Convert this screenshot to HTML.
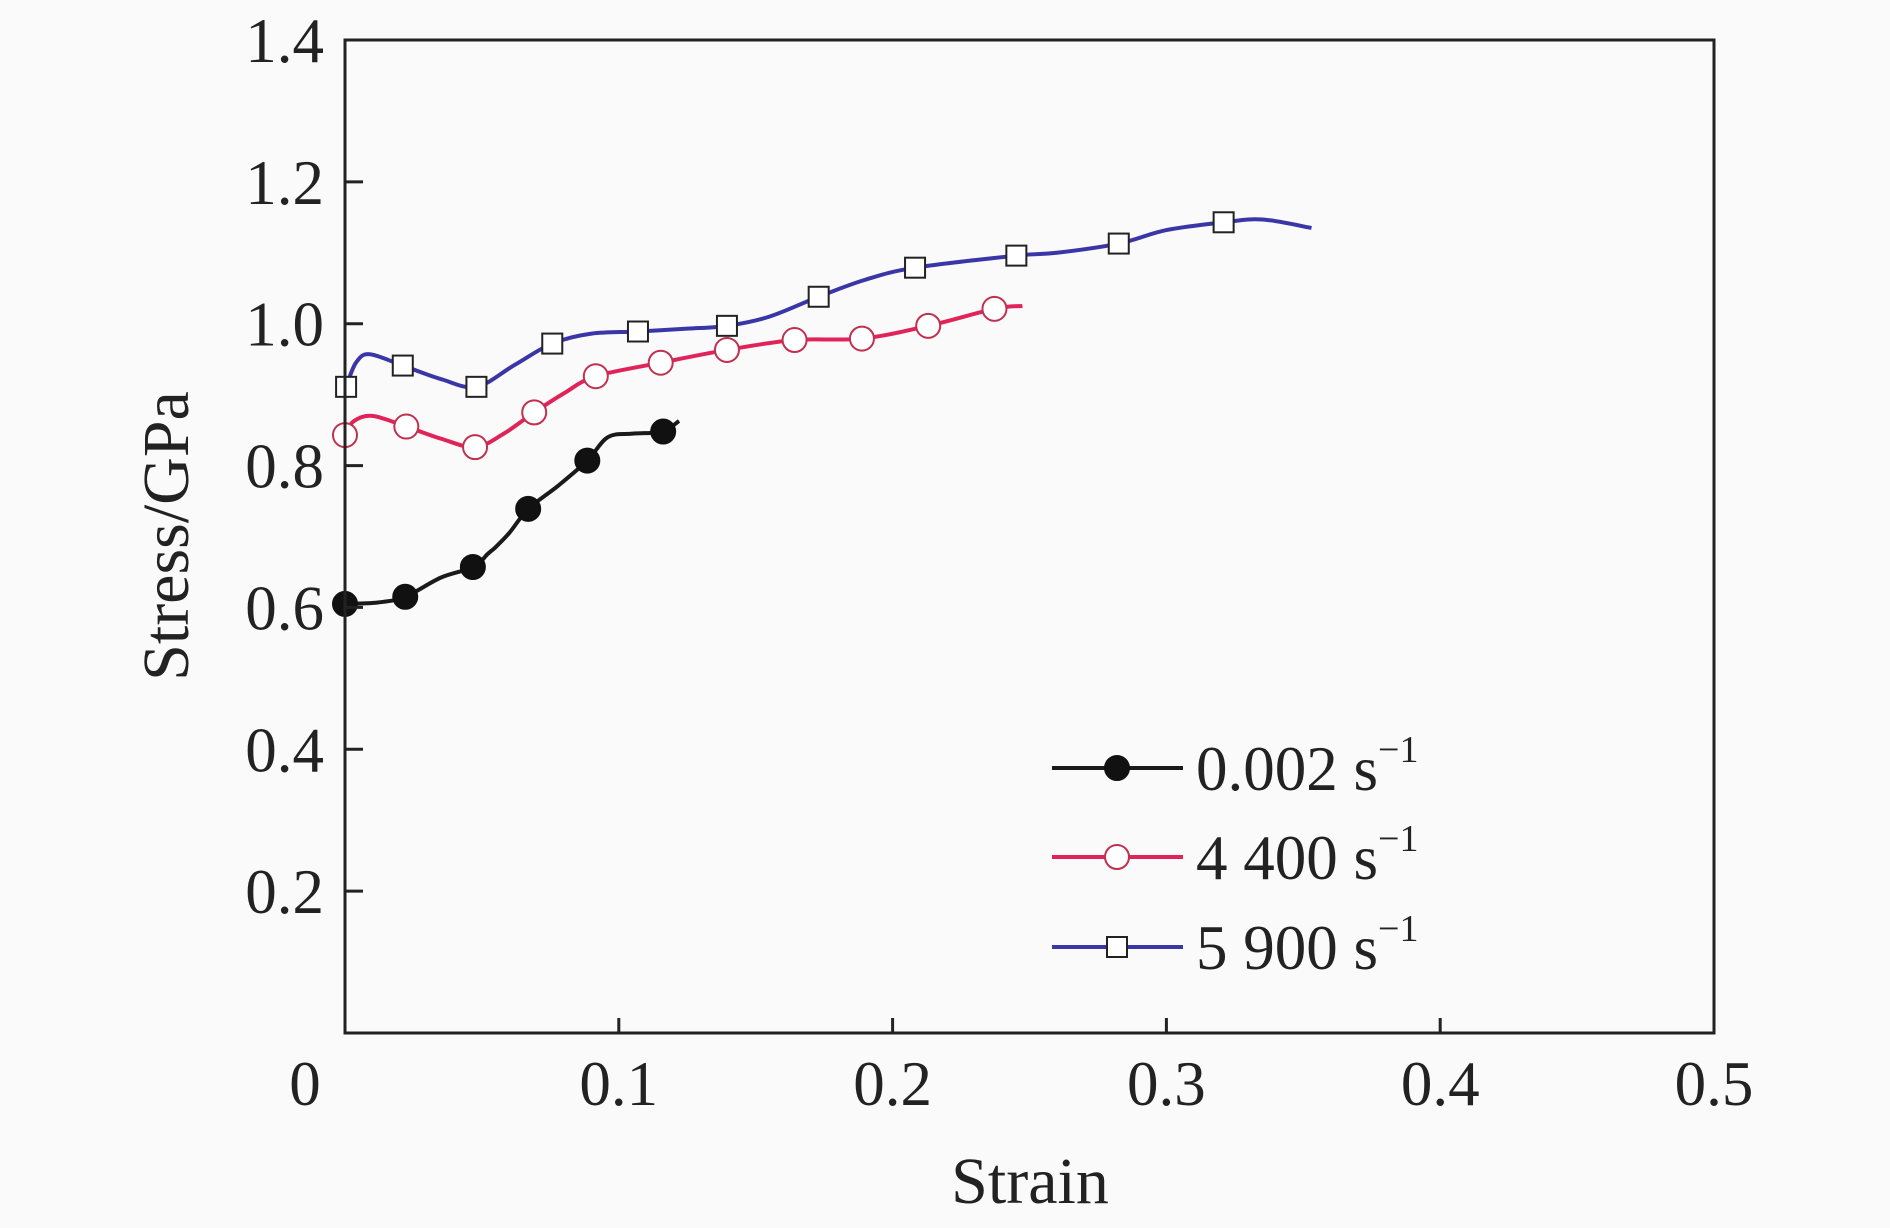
<!DOCTYPE html>
<html><head><meta charset="utf-8"><style>
html,body{margin:0;padding:0;background:#fafafa;}
svg{display:block;}
text{font-family:"Liberation Serif",serif;fill:#222;}
</style></head><body>
<svg id="chart" width="1890" height="1228" viewBox="0 0 1890 1228" xmlns="http://www.w3.org/2000/svg">
<rect x="0" y="0" width="1890" height="1228" fill="#fafafa"/>
<g id="marks"></g>
<rect x="345" y="40" width="1369" height="993" fill="none" stroke="#222" stroke-width="3"/>
<g id="axes"></g>
<text transform="translate(188,536) rotate(-90)" text-anchor="middle" font-size="66">Stress/GPa</text>
<text x="1030" y="1203" text-anchor="middle" font-size="66">Strain</text>
<g id="legend"></g>
</svg>
<script>
const xTicks=[0,0.1,0.2,0.3,0.4,0.5];
const xTickLabels=["0","0.1","0.2","0.3","0.4","0.5"];
const yTicks=[0.2,0.4,0.6,0.8,1.0,1.2,1.4];
const yTickLabels=["0.2","0.4","0.6","0.8","1.0","1.2","1.4"];
const seriesNames=["0.002","4 400","5 900"];
const seriesColors=["#1a1a1a","#e0245a","#3a36a8"];
// curve data
const blackLineX=[0,0.012,0.022,0.035,0.047,0.052,0.055,0.060,0.067,0.078,0.0885,0.096,0.105,0.116,0.122];
const blackLineY=[0.605,0.607,0.615,0.642,0.657,0.675,0.685,0.705,0.739,0.772,0.807,0.840,0.845,0.848,0.863];
const blackMarkX=[0,0.022,0.0467,0.0669,0.0885,0.1162];
const blackMarkY=[0.605,0.615,0.657,0.739,0.807,0.848];
const redLineX=[0,0.003,0.010,0.0224,0.035,0.0475,0.058,0.0691,0.080,0.0916,0.1153,0.1395,0.1642,0.1888,0.213,0.2372,0.2474];
const redLineY=[0.843,0.862,0.870,0.855,0.838,0.826,0.845,0.875,0.902,0.926,0.945,0.963,0.977,0.979,0.997,1.021,1.025];
const redMarkX=[0,0.0224,0.0475,0.0691,0.0916,0.1153,0.1395,0.1642,0.1888,0.213,0.2372];
const redMarkY=[0.843,0.855,0.826,0.875,0.926,0.945,0.963,0.977,0.979,0.997,1.021];
const blueLineX=[0.0004,0.004,0.009,0.0211,0.035,0.048,0.062,0.0757,0.090,0.107,0.125,0.1395,0.155,0.173,0.19,0.2082,0.2452,0.26,0.2826,0.300,0.3209,0.335,0.353];
const blueLineY=[0.911,0.945,0.957,0.941,0.922,0.911,0.942,0.972,0.986,0.989,0.993,0.997,1.010,1.038,1.062,1.079,1.096,1.100,1.113,1.132,1.143,1.147,1.135];
const blueMarkX=[0.0004,0.0211,0.048,0.0757,0.107,0.1395,0.173,0.2082,0.2452,0.2826,0.3209];
const blueMarkY=[0.911,0.941,0.911,0.972,0.989,0.997,1.038,1.079,1.096,1.113,1.143];

const L=345,R=1714,T=40,B=1033;
function xs(v){return L+(v-0)/(0.5-0)*(R-L);}
function ys(v){return B-(v-0)/(1.4-0)*(B-T);}
const NS="http://www.w3.org/2000/svg";
function mk(tag,attrs,parent){const e=document.createElementNS(NS,tag);for(const k in attrs)e.setAttribute(k,attrs[k]);parent.appendChild(e);return e;}
function smooth(px,py){
  let d="M"+px[0]+","+py[0];
  for(let i=0;i<px.length-1;i++){
    const x0=px[i-1]!==undefined?px[i-1]:px[i],y0=py[i-1]!==undefined?py[i-1]:py[i];
    const x3=px[i+2]!==undefined?px[i+2]:px[i+1],y3=py[i+2]!==undefined?py[i+2]:py[i+1];
    const c1x=px[i]+(px[i+1]-x0)/6,c1y=py[i]+(py[i+1]-y0)/6;
    const c2x=px[i+1]-(x3-px[i])/6,c2y=py[i+1]-(y3-py[i])/6;
    d+=" C"+c1x+","+c1y+" "+c2x+","+c2y+" "+px[i+1]+","+py[i+1];
  }
  return d;
}
const axes=document.getElementById('axes');
xTicks.forEach((t,i)=>{
  const l=mk('line',{x1:xs(t),x2:xs(t),y1:B,y2:B-15,stroke:'#222','stroke-width':3},axes);
  
  
  const tx=mk('text',{x:xs(t)-(i===0?40:0),y:1105,'text-anchor':'middle','font-size':63},axes);
  tx.textContent=xTickLabels[i];
  
  
});
yTicks.forEach((t,i)=>{
  const l=mk('line',{x1:L,x2:L+18,y1:ys(t),y2:ys(t),stroke:'#222','stroke-width':3},axes);
  
  
  const tx=mk('text',{x:324,y:ys(t)+22,'text-anchor':'end','font-size':63},axes);
  tx.textContent=yTickLabels[i];
  
  
});
const marks=document.getElementById('marks');
const lines=[[blackLineX,blackLineY],[redLineX,redLineY],[blueLineX,blueLineY]];
const mks=[[blackMarkX,blackMarkY],[redMarkX,redMarkY],[blueMarkX,blueMarkY]];
const names=['series-0002','series-4400','series-5900'];
function marker(k,cx,cy,parent){
  let e;
  if(k===0)e=mk('circle',{cx:cx,cy:cy,r:12,fill:'#111',stroke:'#111','stroke-width':2},parent);
  else if(k===1)e=mk('circle',{cx:cx,cy:cy,r:12,fill:'#fff',stroke:'#c0304f','stroke-width':2},parent);
  else e=mk('rect',{x:cx-10,y:cy-10,width:20,height:20,fill:'#fff',stroke:'#222','stroke-width':2},parent);
  return e;
}
lines.forEach((ln,k)=>{
  const p=mk('path',{d:smooth(ln[0].map(xs),ln[1].map(ys)),fill:'none',stroke:seriesColors[k],'stroke-width':4},marks);
  
  
});
mks.forEach((m,k)=>{
  m[0].forEach((x,i)=>{
    const e=marker(k,xs(x),ys(m[1][i]),marks);
    
    
  });
});
const lg=document.getElementById('legend');
const legY=[768,857,947];
seriesNames.forEach((n,k)=>{
  const g=mk('g',{},lg);
  
  
  mk('line',{x1:1052,x2:1183,y1:legY[k],y2:legY[k],stroke:seriesColors[k],'stroke-width':4},g);
  marker(k,1117,legY[k],g);
  const t=mk('text',{x:1196,y:legY[k]+22,'font-size':63},g);
  t.textContent=n+" s";
  const s=mk('tspan',{dy:-28,'font-size':38},t);
  s.textContent="\u22121";
});
</script>
</body></html>
